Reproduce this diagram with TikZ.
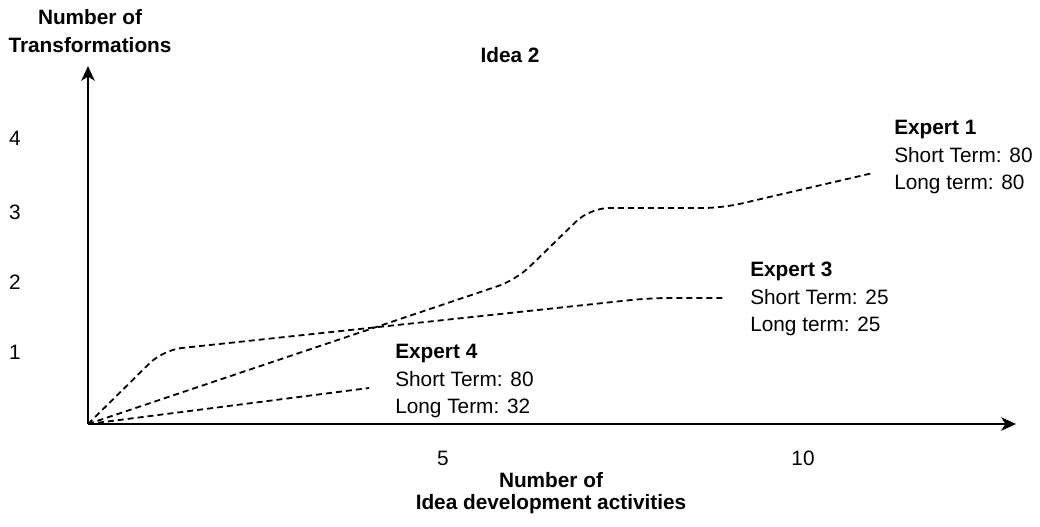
\documentclass[tikz,border=0pt]{standalone}
\usepackage{fontspec}
\setmainfont{Liberation Sans}
\usetikzlibrary{arrows.meta}
\tikzset{txt/.style = {font=\fontsize{15.6}{20.6}\selectfont, inner sep=0pt},
         hd/.style  = {txt, font=\fontsize{15.6}{20.6}\selectfont\bfseries, align=center},
         ex/.style  = {txt, anchor=west, align=left},
         ax/.style  = {line width=1.5pt, ->},
         cv/.style  = {line width=1.35pt, dash pattern=on 4.5pt off 3pt, rounded corners=14pt}}

\begin{document}
\begin{tikzpicture}[x=0.75pt, y=-0.75pt, >={Stealth[length=11pt, width=10pt, inset=3pt]}]
    \useasboundingbox (0,0) rectangle (1040,526);
    \coordinate (o) at (88,424); \coordinate (yt) at (88,66); \coordinate (xt) at (1016,424);
    \coordinate (e1) at (873,173); \coordinate (e3) at (725,298); \coordinate (e4) at (369,388);
    \draw[ax] (o) -- (yt);
    \draw[ax] (o) -- (xt);
    \node[hd] (yl) at (90,31) {Number of\\Transformations};
    \node[hd, font=\fontsize{15.6}{16}\selectfont\bfseries] (xl) at (551,493) {Number of\\Idea development activities};
    \node[hd] (tt) at (510,55) {Idea 2};
    \node[txt] (y1) at (15,352) {1}; \node[txt] (y2) at (15,282) {2};
    \node[txt] (y3) at (15,212) {3}; \node[txt] (y4) at (15,138) {4};
    \node[txt] (x5) at (443,458) {5}; \node[txt] (x10) at (803,458) {10};
    % the three experts
    \draw[cv] (o) -- (516,280) -- (590,208) -- (722,208) -- (e1);
    \draw[cv] (o) -- (163,350) -- (650,298) -- (e3);
    \draw[cv] (o) -- (e4);
    \node[ex] (l1) at (894,157) {\textbf{Expert 1}\\Short Term: 80\\Long term: 80};
    \node[ex] (l3) at (750,299) {\textbf{Expert 3}\\Short Term: 25\\Long term: 25};
    \node[ex] (l4) at (395,381) {\textbf{Expert 4}\\Short Term: 80\\Long Term: 32};
\end{tikzpicture}
\end{document}
